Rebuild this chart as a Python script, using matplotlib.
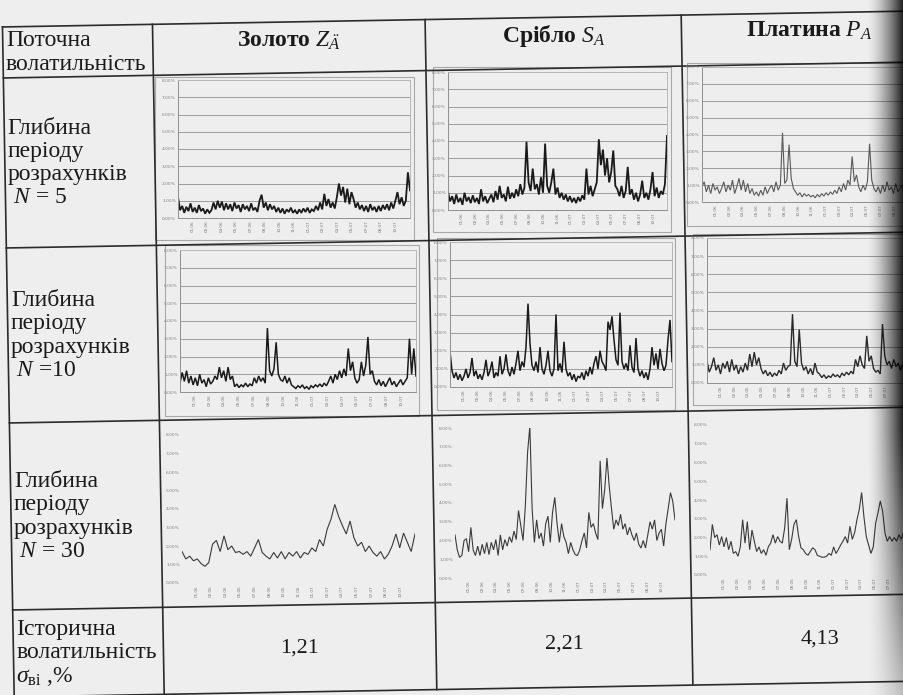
import numpy as np
import matplotlib.pyplot as plt
from matplotlib.patches import Rectangle

plt.rcParams["font.family"] = ["Liberation Serif", "DejaVu Serif"]
plt.rcParams["mathtext.fontset"] = "custom"
plt.rcParams["mathtext.rm"] = "Liberation Serif"
plt.rcParams["mathtext.it"] = "Liberation Serif:italic"
plt.rcParams["mathtext.bf"] = "Liberation Serif:bold"

# ---- table text ----
col_headers = [r"Золото $Z_{\ddot{A}}$", r"Срібло $S_{A}$", r"Платина $P_{A}$"]
row_labels = [
    "Поточна\nволатильність",
    "Глибина\nперіоду\nрозрахунків\n $N$ = 5",
    "Глибина\nперіоду\nрозрахунків\n $N$ =10",
    "Глибина\nперіоду\nрозрахунків\n $N$ = 30",
    "Історична\nволатильність\n$\\sigma_{\\mathrm{ві}}$ ,%",
]
hist_vol = [1.21, 2.21, 4.13]

# small tick labels of the embedded charts (barely legible in the scan)
y_tick_labels = ["0,00%", "1,00%", "2,00%", "3,00%", "4,00%",
                 "5,00%", "6,00%", "7,00%", "8,00%"]
x_tick_labels = ["01.06", "02.06", "04.06", "05.06", "07.06", "08.06",
                 "10.06", "11.06", "01.07", "02.07", "04.07", "05.07",
                 "07.07", "08.07", "10.07", "11.07"]

# ---- volatility series (in chart grid units) ----
gold_n5 = [1.2, 0.45, 0.7, 0.3, 0.65, 0.4, 0.85, 0.35, 0.6, 0.3, 0.75, 0.4, 0.55, 0.25, 0.5, 0.3, 0.45,
           0.9, 0.5, 1.0, 0.6, 0.95, 0.45, 0.85,
           0.5, 0.8, 0.4, 0.9, 0.55, 0.75, 0.35, 0.8, 0.5, 0.7, 0.4, 0.85, 0.45, 0.6, 0.35,
           1.0, 1.35, 0.6, 0.9, 0.45,
           0.8, 0.5, 0.7, 0.35, 0.6, 0.3, 0.55, 0.25, 0.5, 0.35, 0.6, 0.3, 0.45, 0.25, 0.5, 0.3,
           0.55, 0.35, 0.6, 0.3, 0.5, 0.4,
           0.7, 0.45, 0.9, 0.5, 1.4, 0.7, 1.1, 0.6, 0.9, 0.55,
           1.2, 2.0, 1.3, 1.8, 0.9, 1.7, 0.8, 1.5, 1.1, 0.6,
           0.9, 0.5, 0.75, 0.4, 0.7, 0.35, 0.8, 0.45, 0.65, 0.35, 0.7, 0.4, 0.75, 0.5, 0.8, 0.45,
           0.9, 0.55, 1.0,
           1.5, 0.8, 1.2, 0.7, 1.0, 2.65, 1.6]
silver_n5 = [1.05, 0.5, 0.8, 0.35, 0.9, 0.45, 0.7, 0.3, 1.0, 0.5, 0.75,
             0.4, 0.85, 0.45, 0.7, 0.35, 1.2, 0.5, 0.8, 0.4, 0.65,
             0.9, 0.45, 1.1, 0.6, 1.4, 0.7, 0.9, 0.5, 1.35, 0.65, 1.0,
             0.7, 1.2, 0.8, 1.5, 0.9, 1.3,
             3.95, 1.6, 1.1, 2.4, 1.2,
             1.5, 0.9, 1.9, 1.0, 3.85, 1.4, 1.0, 1.6,
             2.4, 0.9, 1.3, 0.7, 1.0, 0.6,
             0.9, 0.5, 0.8, 0.45, 0.7, 0.4, 0.75, 0.5, 0.85, 0.6,
             2.4, 0.9, 1.4, 0.8, 1.2,
             1.6, 4.1, 2.6, 3.5, 2.0, 3.0, 1.6, 2.2, 3.45, 1.4,
             1.2, 0.8, 1.4, 0.7, 1.1, 2.5, 0.9, 1.2,
             0.6, 1.0, 0.5, 0.9, 1.7, 0.7, 1.0, 0.6, 1.2, 2.2,
             0.8, 1.3, 0.7, 1.1, 0.9, 1.5, 4.3]
plat_n5 = [0.9, 1.2, 0.6, 1.0, 0.5, 1.1, 0.7, 0.9, 0.5,
           0.8, 1.2, 0.6, 1.0, 0.7, 1.3, 0.5, 0.9, 1.4, 0.7, 1.3, 0.6, 1.1, 0.5, 0.8, 0.4,
           0.6, 0.35, 0.7, 0.4, 0.9, 0.5, 0.8, 1.0, 0.6, 1.2, 0.7, 1.0,
           4.1, 1.1, 1.3, 3.4, 1.4, 0.8,
           0.6, 0.4, 0.55, 0.3, 0.5, 0.35, 0.45, 0.3, 0.4, 0.25, 0.45, 0.3, 0.5, 0.35, 0.55, 0.4,
           0.6, 0.45, 0.7, 0.5,
           0.9, 0.6, 1.1, 0.7, 1.3, 1.0, 2.7, 1.2, 1.6,
           0.9, 0.6, 1.0, 0.7, 1.2, 3.45, 1.3, 0.8, 0.6,
           0.9, 0.5, 1.0, 0.6, 1.2, 0.7, 0.9, 0.5, 1.1, 0.6, 0.8, 1.0, 0.7]

gold_n10 = [0.5, 1.1, 0.6, 1.2, 0.5, 0.9, 0.4, 0.8, 0.35, 1.0, 0.5, 0.7, 0.3, 0.8, 0.45, 0.6, 0.9,
            0.7, 1.4, 0.8, 1.2, 0.6, 1.4, 0.7, 0.9,
            0.3, 0.45, 0.25, 0.4, 0.3, 0.5, 0.3, 0.45, 0.35, 0.8, 0.5, 0.9, 0.6, 0.8, 0.5,
            3.6, 1.2, 0.9, 1.3, 2.8, 1.0, 0.7,
            0.6, 0.9, 0.5, 0.8, 0.4,
            0.3, 0.2, 0.35, 0.25, 0.4, 0.2, 0.3, 0.15, 0.35, 0.25, 0.4, 0.3, 0.45, 0.3, 0.5, 0.35,
            0.6, 0.9, 0.5, 1.0, 0.7, 1.2, 0.8, 1.3, 0.9,
            2.45, 1.2, 1.7,
            0.8, 0.5, 0.7, 1.7, 0.9, 1.5, 3.1, 1.0, 1.2,
            0.6, 0.4, 0.7, 0.35, 0.6, 0.3, 0.55, 0.8, 0.4, 0.6, 0.3, 0.5, 0.7, 0.4, 0.6, 0.8,
            3.0, 1.0, 2.45, 0.9]
silver_n10 = [1.95, 0.9, 0.5, 0.8, 0.4, 0.7, 0.35, 0.6, 1.0, 0.5,
              0.8, 1.6, 0.6, 0.9, 0.45, 0.7, 0.4, 0.8, 1.5, 0.6,
              0.9, 1.4, 0.5, 0.8, 0.6, 1.7, 0.7, 1.0, 1.8, 0.9,
              0.6, 1.1, 0.7, 1.3, 2.0, 0.9, 1.4, 1.1, 2.2, 4.6,
              2.4, 1.2, 0.9, 1.4, 0.8, 2.2, 1.0, 0.7, 1.2, 2.0,
              0.9, 0.6, 1.0, 4.0, 0.9, 1.3, 0.8, 2.5, 1.0, 0.6,
              0.8, 0.4, 0.7, 0.3, 0.6, 0.5, 0.8, 0.4, 0.9, 0.6,
              1.1, 0.7, 1.3, 1.7, 1.0, 2.0, 1.4, 1.2, 0.9, 3.6,
              3.15, 3.9, 2.6, 1.5, 1.2, 4.1, 1.4, 1.0, 1.3, 0.9,
              2.3, 1.1, 0.8, 2.7, 1.0, 0.6, 0.9, 0.5, 0.8, 0.4,
              1.0, 2.2, 1.2, 1.85, 1.0, 2.1, 1.3, 0.9, 1.2, 2.6,
              3.7, 1.4]
plat_n10 = [1.2, 0.6, 0.9, 1.4, 0.7, 1.0, 0.5, 1.1, 0.8, 1.2, 0.6, 1.3, 0.7, 1.0, 0.5, 0.9,
            0.6, 1.1, 0.7, 1.6, 0.9, 1.7, 1.0, 1.4, 0.8,
            0.5, 0.7, 0.4, 0.6, 0.35, 0.55, 0.4, 0.7, 0.5, 1.1, 0.7, 0.9,
            1.0, 3.8, 1.2, 0.9, 2.95, 1.1, 0.7,
            0.9, 0.5, 0.8, 0.45, 1.1, 0.6, 0.5, 0.3, 0.45, 0.25, 0.4, 0.3, 0.5, 0.35, 0.45, 0.3,
            0.55, 0.4, 0.6, 0.45, 0.65, 0.5,
            1.3, 0.9, 1.5, 1.0, 0.8, 2.6, 1.2, 1.5, 0.8,
            0.6, 0.7, 0.5, 3.25, 1.5, 1.0,
            1.2, 0.8, 1.3, 0.9, 1.1, 0.7, 1.0, 1.2]

gold_n30 = [1.7, 1.3, 1.45, 1.2, 1.3, 1.05, 0.9, 1.1, 2.1, 2.3, 1.7, 2.55, 1.8, 2.0,
            1.65, 1.7, 1.55, 1.7, 1.45, 1.9, 2.35, 1.65, 1.45, 1.3, 1.65, 1.35, 1.7, 1.3,
            1.65, 1.45, 1.7, 1.35, 1.65, 1.55, 1.9, 1.7, 2.35, 2.0, 2.9, 3.45, 4.25, 3.6,
            3.1, 2.65, 3.35, 2.45, 2.0, 2.2, 1.7, 2.0, 1.65, 1.45, 1.7, 1.3, 1.55, 2.0,
            2.65, 1.9, 2.7, 2.2, 1.7, 2.65]
silver_n30 = [2.3, 1.5, 1.1, 1.2, 2.0, 2.1, 1.4, 2.7, 1.5, 1.2, 1.7, 1.2, 1.8, 1.3,
              1.9, 1.25, 1.9, 1.5, 2.05, 1.2, 2.3, 1.5, 2.05, 1.7, 2.2, 1.9, 2.5, 2.05,
              3.6, 2.8, 2.0, 3.8, 6.7, 8.1, 3.7, 1.9, 3.1, 2.1, 2.4, 1.7, 2.9, 3.3,
              1.9, 3.5, 4.3, 2.9, 1.9, 2.9, 2.2, 1.9, 1.3, 1.9, 1.5, 1.25, 1.2, 1.5,
              2.0, 2.4, 1.6, 3.5, 2.7, 2.9, 2.4, 2.05, 6.25, 3.7, 4.7, 6.4, 4.9, 3.7,
              2.6, 3.1, 2.8, 3.4, 2.6, 2.9, 2.3, 2.7, 2.3, 2.0, 2.4, 1.8, 1.6, 2.0,
              1.6, 2.3, 3.0, 2.6, 3.1, 2.0, 2.4, 2.6, 1.7, 2.9, 3.7, 4.55, 4.1, 3.1]
plat_n30 = [1.35, 2.7, 2.0, 2.15, 1.6, 2.05, 1.5, 2.0, 1.35, 1.8, 1.15, 1.25, 1.0, 1.5,
            2.95, 1.7, 2.85, 1.35, 2.4, 1.8, 1.25, 1.5, 1.15, 1.35, 1.05, 1.5, 1.7, 2.15,
            1.7, 2.05, 1.8, 1.7, 2.5, 4.1, 1.35, 1.9, 2.7, 2.95, 2.05, 1.45, 1.35, 1.15,
            1.05, 1.25, 1.45, 1.35, 1.05, 1.0, 0.95, 0.95, 1.0, 1.15, 1.05, 1.5, 1.15, 1.35,
            1.6, 1.8, 2.05, 1.7, 2.6, 1.9, 2.25, 2.95, 3.5, 4.4, 3.1, 2.05, 1.6, 1.15,
            1.5, 2.75, 3.3, 3.95, 3.4, 2.25, 1.8, 2.05, 1.8, 2.0, 1.8, 2.15, 1.9, 2.3]

W, H = 904, 695
SKEW = 0.0175          # the scanned page is turned by about one degree
col_edges = [2, 152, 424.6, 680.7, 950]
row_edges = [27, 78, 248, 423, 610, 697]


def page_xy(u, v):
    return u + SKEW * v, v - SKEW * u


fig = plt.figure(figsize=(W / 100, H / 100), dpi=100)
fig.patch.set_facecolor("#eeeeee")
base = fig.add_axes([0, 0, 1, 1])
base.set_xlim(0, W)
base.set_ylim(H, 0)
base.axis("off")

# table grid
for v in row_edges:
    (x0, y0), (x1, y1) = page_xy(col_edges[0], v), page_xy(col_edges[-1], v)
    base.plot([x0, x1], [y0, y1], color="#2b2b2b", lw=1.2, zorder=3)
for u in col_edges[:-1]:
    (x0, y0), (x1, y1) = page_xy(u, row_edges[0]), page_xy(u, row_edges[-1])
    base.plot([x0, x1], [y0, y1], color="#2b2b2b", lw=1.2, zorder=3)

# first column labels
for i, lab in enumerate(row_labels):
    vc = (row_edges[i] + row_edges[i + 1]) / 2
    x, y = page_xy(col_edges[0] + 3, vc)
    base.text(x, y, lab, fontsize=17, ha="left", va="center",
              linespacing=1.14, color="#1a1a1a")

# column headers
for j, lab in enumerate(col_headers):
    uc = (col_edges[j + 1] + col_edges[j + 2]) / 2
    if j == 2:
        uc = col_edges[3] + 128
    x, y = page_xy(uc, (row_edges[0] + row_edges[1]) / 2 - 7)
    base.text(x, y, lab, fontsize=17, fontweight="bold", ha="center",
              va="center", color="#1a1a1a")

# historical volatility row
for j, val in enumerate(hist_vol):
    uc = (col_edges[j + 1] + col_edges[j + 2]) / 2
    if j == 2:
        uc = col_edges[3] + 128
    x, y = page_xy(uc, (row_edges[4] + row_edges[5]) / 2)
    base.text(x, y, f"{val:.2f}".replace(".", ","), fontsize=16,
              ha="center", va="center", color="#1a1a1a")

# chart boxes: plot area (x0, y0, x1, y1) in pixels, frame, visible fraction
charts = [
    (gold_n5, (178, 80, 410, 218), (155, 77, 414, 240), 1.0, "#1a1a1a", 1.3),
    (silver_n5, (448, 72, 667, 210), (433, 67, 671, 232), 1.0, "#1a1a1a", 1.3),
    (plat_n5, (702, 67, 922, 202), (687, 63, 940, 226), 0.92, "#5a5a5a", 0.8),
    (gold_n10, (180, 250, 416, 392), (165, 245, 419, 416), 1.0, "#1a1a1a", 1.1),
    (silver_n10, (450, 242, 672, 387), (437, 238, 675, 410), 1.0, "#1a1a1a", 1.1),
    (plat_n10, (707, 238, 927, 383), (693, 234, 940, 405), 0.9, "#2a2a2a", 1.0),
    (gold_n30, (182, 435, 415, 583), None, 1.0, "#3a3a3a", 0.8),
    (silver_n30, (455, 428, 675, 578), None, 1.0, "#3a3a3a", 0.8),
    (plat_n30, (710, 425, 930, 575), None, 0.88, "#3a3a3a", 0.8),
]

for vals, (x0, y0, x1, y1), frame, frac, col, lw in charts:
    if frame is not None:
        fx0, fy0, fx1, fy1 = frame
        base.add_patch(Rectangle((fx0, fy0), fx1 - fx0, fy1 - fy0, fill=False,
                                 ec="#a8a8a8", lw=0.8, zorder=2))
    ax = fig.add_axes([x0 / W, 1 - y1 / H, (x1 - x0) / W, (y1 - y0) / H])
    ax.patch.set_alpha(0)
    n = len(vals)
    xs = np.arange(n)
    ax.plot(xs, vals, color=col, lw=lw, solid_joinstyle="miter")
    ax.set_xlim(0, (n - 1) / frac)
    ax.set_ylim(0, 8)
    ax.set_yticks(range(9))
    ax.set_yticklabels(y_tick_labels, fontsize=3.2, color="#858585",
                       family="DejaVu Sans")
    xt = np.linspace(0, (n - 1) / frac, len(x_tick_labels) + 1)[1:]
    keep = [k for k, p in enumerate(xt) if p <= (n - 1) - 3]
    ax.set_xticks(xt[keep])
    ax.set_xticklabels([x_tick_labels[k] for k in keep], fontsize=3.0,
                       rotation=90, color="#7a7a7a", family="DejaVu Sans")
    ax.tick_params(length=0, pad=1.5)
    if frame is not None:
        ax.yaxis.grid(True, color="#9c9c9c", lw=0.7)
        for s in ax.spines.values():
            s.set_color("#b8b8b8")
            s.set_linewidth(0.7)
        ax.spines["left"].set_color("#909090")
        ax.spines["bottom"].set_color("#909090")
    else:
        for s in ax.spines.values():
            s.set_visible(False)

# shadow of the book binding at the right edge
gx = np.linspace(0, 1, 60)
gy = np.linspace(0, 1, 140)
GX, GY = np.meshgrid(gx, gy)
fade = np.where(GY < 0.62, 1.0, np.clip(1 - (GY - 0.62) / 0.38 * 0.75, 0.25, 1))
shade = np.zeros((len(gy), len(gx), 4))
shade[..., 3] = (GX ** 1.6) * 0.9 * fade
sh = fig.add_axes([0, 0, 1, 1])
sh.set_xlim(0, W)
sh.set_ylim(H, 0)
sh.axis("off")
sh.imshow(shade, extent=(866, W, H, 0), aspect="auto", zorder=10)

fig.savefig("out.png", dpi=100, facecolor=fig.get_facecolor())
